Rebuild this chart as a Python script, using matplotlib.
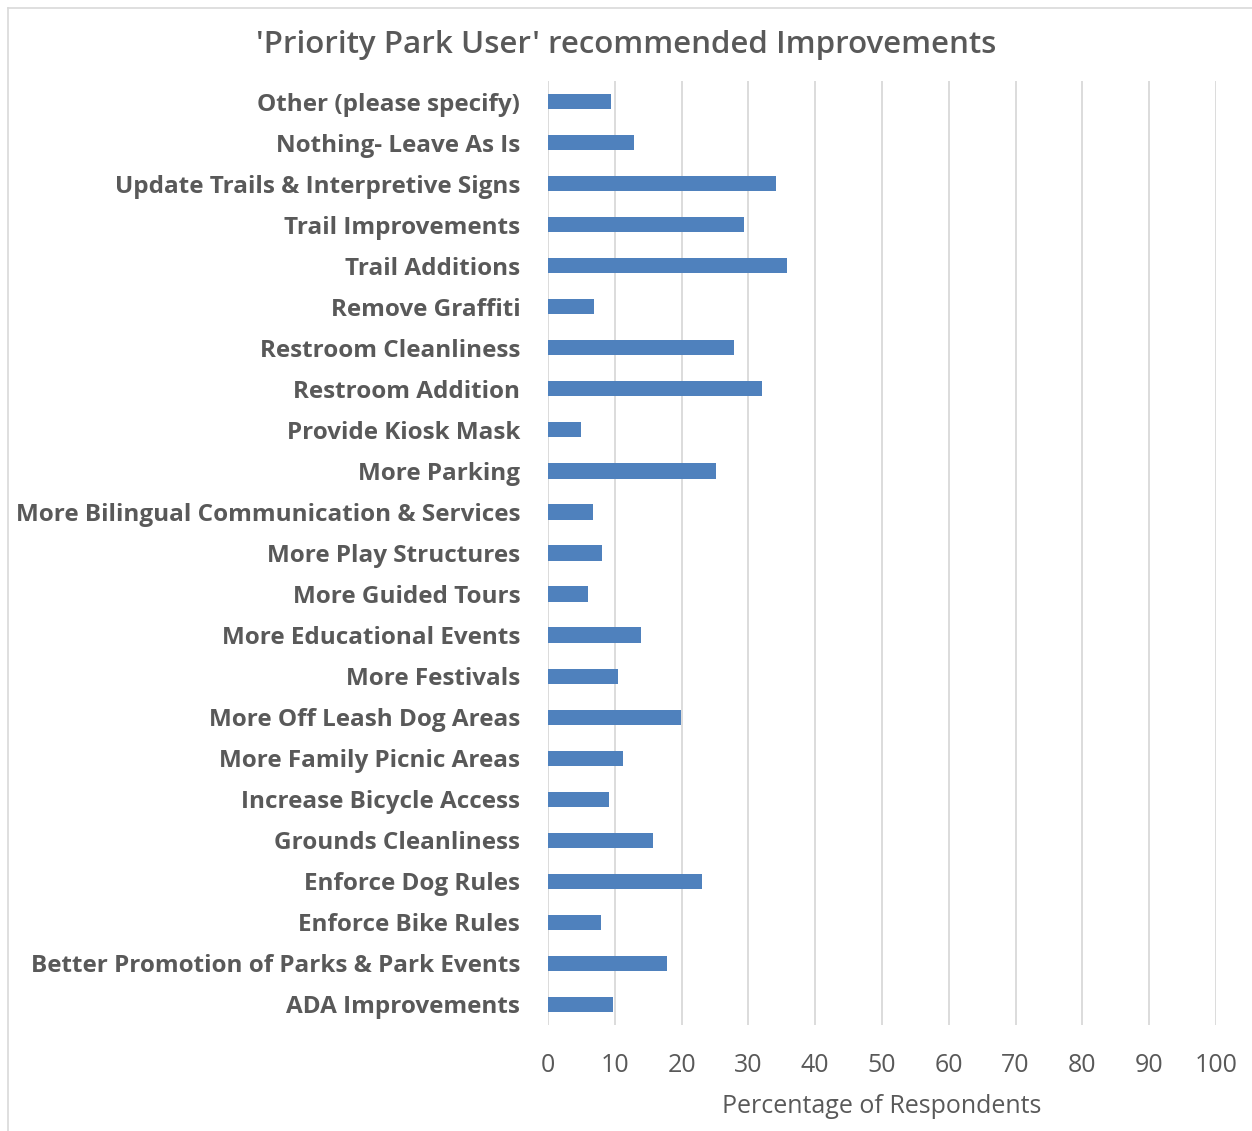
import numpy as np
import matplotlib.pyplot as plt
from matplotlib.lines import Line2D

# categories, bottom to top as drawn
categories = [
    'ADA Improvements',
    'Better Promotion of Parks & Park Events',
    'Enforce Bike Rules',
    'Enforce Dog Rules',
    'Grounds Cleanliness',
    'Increase Bicycle Access',
    'More Family Picnic Areas',
    'More Off Leash Dog Areas',
    'More Festivals',
    'More Educational Events',
    'More Guided Tours',
    'More Play Structures',
    'More Bilingual Communication & Services',
    'More Parking',
    'Provide Kiosk Mask',
    'Restroom Addition',
    'Restroom Cleanliness',
    'Remove Graffiti',
    'Trail Additions',
    'Trail Improvements',
    'Update Trails & Interpretive Signs',
    'Nothing- Leave As Is',
    'Other (please specify)',
]
percent = [9.8, 17.8, 7.9, 23.0, 15.7, 9.2, 11.3, 19.9, 10.5, 13.9, 6.0, 8.1, 6.7,
           25.1, 4.9, 32.0, 27.9, 6.9, 35.8, 29.3, 34.2, 12.8, 9.5]
xticks = list(range(0, 101, 10))

W, H = 1252, 1131
fig = plt.figure(figsize=(W / 100, H / 100), dpi=100)
ax = fig.add_axes([548 / W, 1 - 1025 / H, (1216 - 548) / W, (1025 - 81) / H])

gray = '#595959'
y = np.arange(len(categories))
ax.barh(y, percent, height=0.37, color='#4f81bd', zorder=3)
ax.set_ylim(-0.5, len(categories) - 0.5)
ax.set_xlim(0, 100)
ax.set_xticks(xticks)
ax.set_yticks(y)
ax.set_yticklabels(categories, fontsize=17.5, fontweight='bold', color=gray,
                   family='Open Sans')
ax.tick_params(axis='y', length=0, pad=20)
ax.tick_params(axis='x', length=0, pad=20, labelsize=18, labelcolor=gray)
for lab in ax.get_xticklabels():
    lab.set_family('Open Sans')
ax.grid(axis='x', color='#d9d9d9', linewidth=1.3, zorder=0)
for s in ax.spines.values():
    s.set_visible(False)
ax.set_xlabel('Percentage of Respondents', fontsize=18, color=gray,
              family='Open Sans', labelpad=12)

fig.text(0.5, 1 - 45 / H, "'Priority Park User' recommended Improvements",
         ha='center', va='center', fontsize=22.5, color=gray, family='Open Sans',
         fontweight='semibold')

# thin frame around the chart area
fig.add_artist(Line2D([8 / W, 8 / W], [0, 1 - 8 / H], color='#d9d9d9', lw=1.2))
fig.add_artist(Line2D([8 / W, 1], [1 - 8 / H, 1 - 8 / H], color='#d9d9d9', lw=1.2))

fig.savefig('out.png', dpi=100)
